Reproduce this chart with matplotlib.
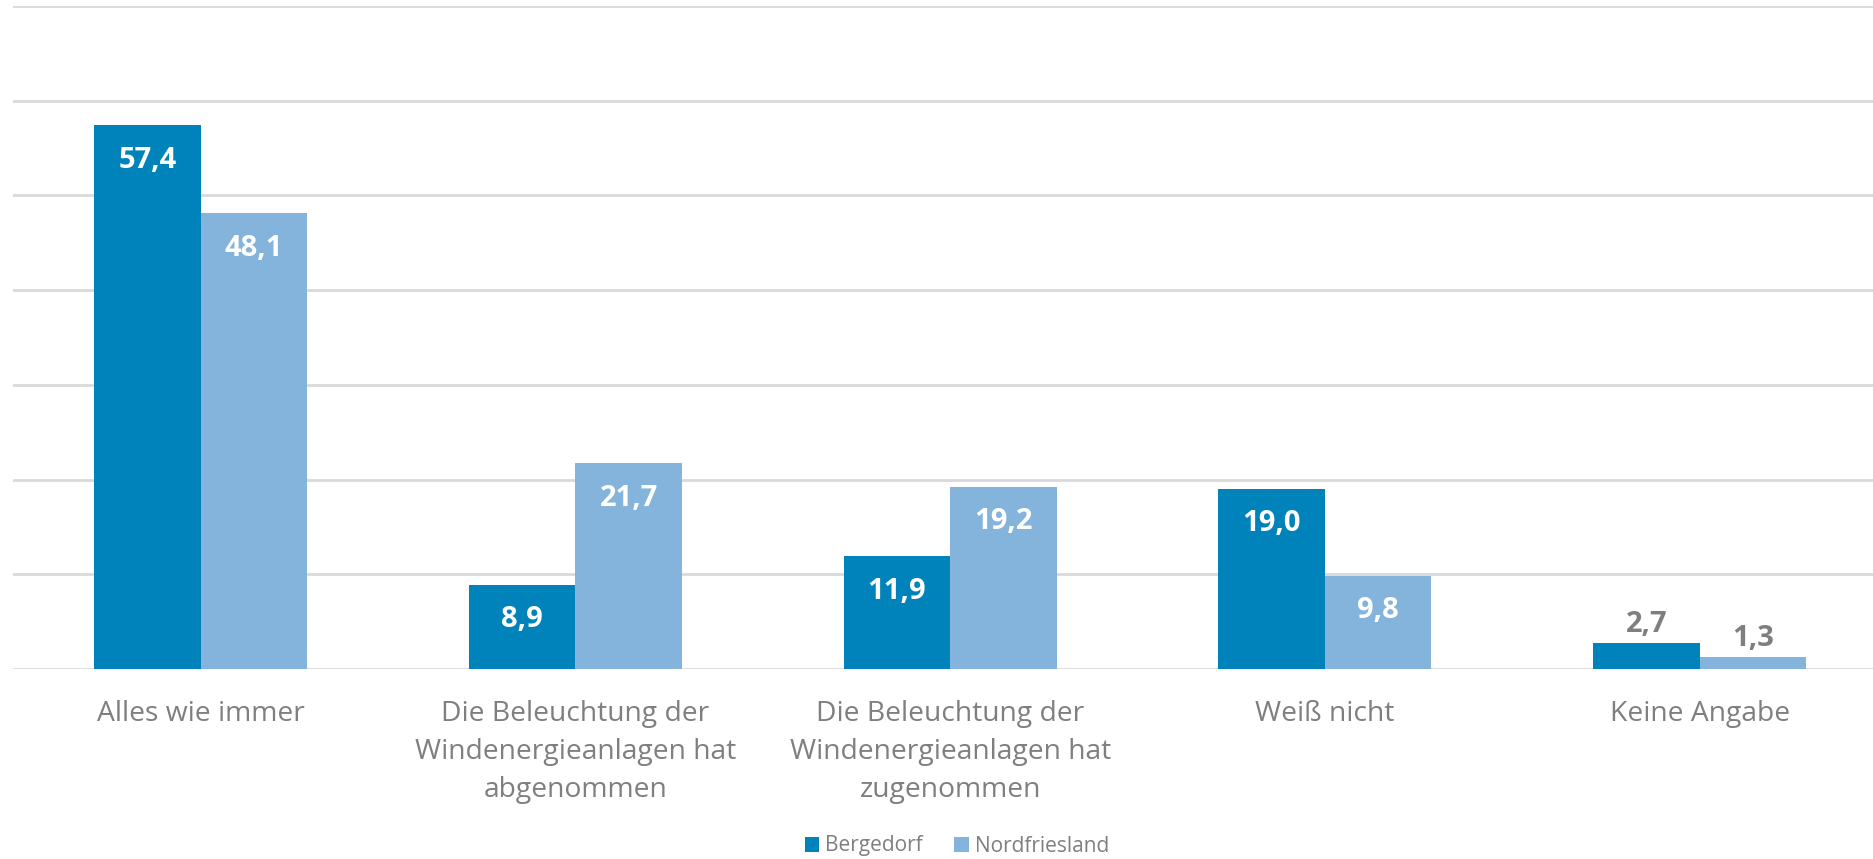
import matplotlib.pyplot as plt
import numpy as np

plt.rcParams['font.family'] = ['Open Sans', 'DejaVu Sans']

categories = [
    "Alles wie immer",
    "Die Beleuchtung der\nWindenergieanlagen hat\nabgenommen",
    "Die Beleuchtung der\nWindenergieanlagen hat\nzugenommen",
    "Weiß nicht",
    "Keine Angabe",
]
bergedorf = [57.4, 8.9, 11.9, 19.0, 2.7]
nordfriesland = [48.1, 21.7, 19.2, 9.8, 1.3]
series_names = ["Bergedorf", "Nordfriesland"]

dark_blue = "#0083BA"
light_blue = "#84B4DC"
grid_col = "#D9D9D9"
text_gray = "#7F7F7F"

fig = plt.figure(figsize=(18.73, 8.59), dpi=100)
ax = fig.add_axes([13.3 / 1873, 1 - 669 / 859, 1 - 13.3 / 1873, (669 - 6) / 859])

x = np.arange(len(categories))
w = 0.284
b1 = ax.bar(x - w / 2, bergedorf, w, color=dark_blue, label=series_names[0], zorder=3)
b2 = ax.bar(x + w / 2, nordfriesland, w, color=light_blue, label=series_names[1], zorder=3)

ax.set_ylim(0, 70)
ax.set_xlim(-0.5, 4.5 - 14 / 374.8)
ax.set_yticks(np.arange(0, 71, 10))
ax.yaxis.grid(True, color=grid_col, linewidth=2)
ax.set_axisbelow(True)
ax.tick_params(axis='y', left=False, labelleft=False)
for s in ax.spines.values():
    s.set_visible(False)

ax.set_xticks(x)
ax.set_xticklabels(categories, fontsize=20.3, color=text_gray, linespacing=1.48)
ax.tick_params(axis='x', length=0, pad=22.5)

for bars in (b1, b2):
    for r in bars:
        h = r.get_height()
        cx = r.get_x() + r.get_width() / 2
        lab = f"{h:.1f}".replace(".", ",")
        if h > 5:
            ax.annotate(lab, (cx, h), xytext=(0, -25), textcoords='offset points',
                        ha='center', va='center', fontsize=21, fontweight='bold', color='white')
        else:
            ax.annotate(lab, (cx, h), xytext=(0, 3), textcoords='offset points',
                        ha='center', va='bottom', fontsize=21, fontweight='bold', color=text_gray)

fig.legend(handles=[b1, b2], labels=series_names, loc='center', bbox_to_anchor=(957 / 1873, 1 - 846 / 859),
           ncol=2, frameon=False, fontsize=15, labelcolor=text_gray, handlelength=0.7, handleheight=0.7,
           handletextpad=0.3, columnspacing=1.5)

fig.savefig("out.png", dpi=100)
